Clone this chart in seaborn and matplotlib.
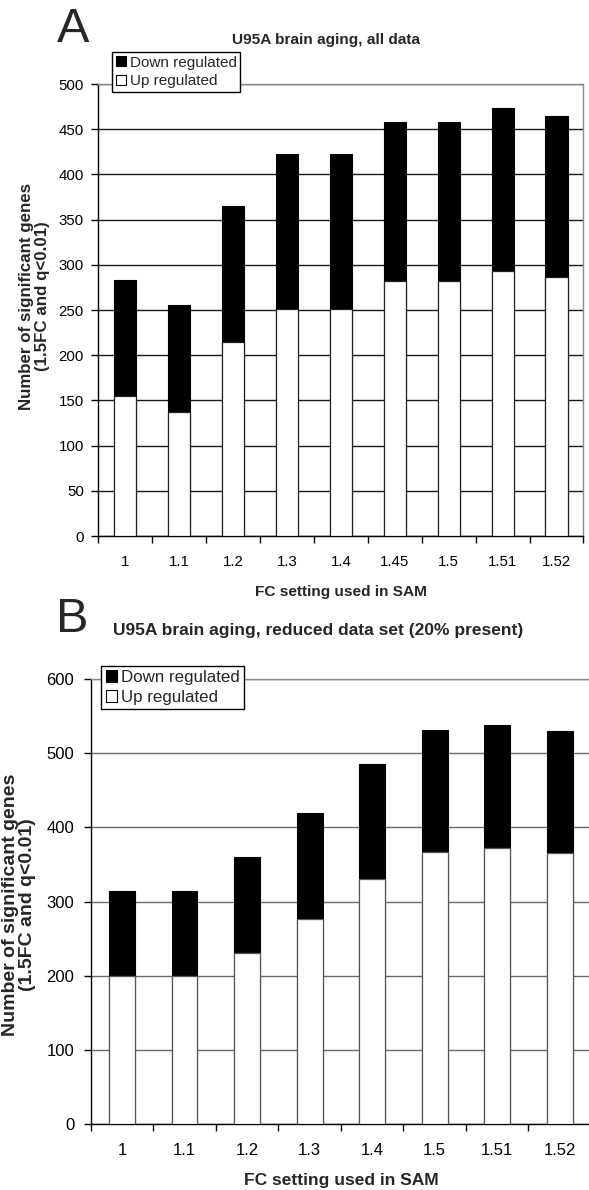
import matplotlib
matplotlib.use("Agg")
import matplotlib.pyplot as plt
from matplotlib.patches import Patch
from matplotlib.ticker import FixedLocator, MultipleLocator
import seaborn as sns
import pandas as pd
import numpy as np

# ---------------- data ----------------
fc_a = ["1", "1.1", "1.2", "1.3", "1.4", "1.45", "1.5", "1.51", "1.52"]
up_a = [155, 137, 215, 251, 251, 282, 282, 293, 286]
down_a = [128, 119, 150, 172, 172, 176, 176, 180, 179]

fc_b = ["1", "1.1", "1.2", "1.3", "1.4", "1.5", "1.51", "1.52"]
up_b = [200, 200, 230, 276, 330, 367, 372, 365]
down_b = [114, 114, 130, 144, 155, 164, 166, 165]

title_a = "U95A brain aging, all data"
title_b = "U95A brain aging, reduced data set (20% present)"
xlabel = "FC setting used in SAM"
ylabel = "Number of significant genes\n(1.5FC and q<0.01)"
legend_labels = ["Down regulated", "Up regulated"]

sns.set_theme(style="white")
plt.rcParams["font.family"] = ["Liberation Sans", "DejaVu Sans"]

W, H = 589, 1190
fig = plt.figure(figsize=(W / 100, H / 100), dpi=100)


def fx(px):
    return px / W


def fy(py):
    return 1 - py / H


def panel(rect, cats, up, down, ymax, ystep, grid_color, edge_col, fs_tick,
          fs_leg, fs_ylab, leg_pos, ylab_xy, xtick_pad, ytick_pad):
    ax = fig.add_axes(rect)
    df = pd.DataFrame({"fc": cats, "up": up, "down": down})
    df["total"] = df["up"] + df["down"]
    sns.barplot(data=df, x="fc", y="total", order=cats, color="black",
                saturation=1, width=0.41, edgecolor="black", linewidth=0.8,
                errorbar=None, ax=ax, zorder=3)
    sns.barplot(data=df, x="fc", y="up", order=cats, color="white",
                saturation=1, width=0.41, edgecolor=edge_col, linewidth=0.9,
                errorbar=None, ax=ax, zorder=3)
    n = len(cats)
    ax.set_xlim(-0.5, n - 0.5)
    ax.set_ylim(0, ymax)
    ax.yaxis.set_major_locator(MultipleLocator(ystep))
    ax.grid(axis="y", color=grid_color, linewidth=1.0, zorder=0)
    ax.grid(axis="x", visible=False)
    ax.set_axisbelow(True)
    for s in ["top", "right"]:
        ax.spines[s].set_color("#8a8a8a")
        ax.spines[s].set_linewidth(1.0)
    for s in ["left", "bottom"]:
        ax.spines[s].set_color("black")
        ax.spines[s].set_linewidth(1.0)
    ax.xaxis.set_minor_locator(FixedLocator(np.arange(-0.5, n, 1.0)))
    ax.tick_params(axis="x", which="major", length=0, labelsize=fs_tick,
                   pad=xtick_pad, colors="black")
    ax.tick_params(axis="x", which="minor", length=5, width=1,
                   direction="out", color="black", bottom=True)
    ax.tick_params(axis="y", which="major", length=5, width=1,
                   direction="out", labelsize=fs_tick, left=True,
                   pad=ytick_pad, colors="black")
    ax.set_xlabel("")
    ax.set_ylabel(ylabel, fontsize=fs_ylab, fontweight="bold",
                  linespacing=1.05, ha="center", va="center")
    ax.yaxis.set_label_coords(*ylab_xy, transform=fig.transFigure)
    handles = [Patch(facecolor="black", edgecolor="black", linewidth=0.8),
               Patch(facecolor="white", edgecolor="black", linewidth=0.8)]
    leg = ax.legend(handles, legend_labels, loc="upper left",
                    bbox_to_anchor=(fx(leg_pos[0]), fy(leg_pos[1])),
                    bbox_transform=fig.transFigure, borderaxespad=0,
                    fontsize=fs_leg, frameon=True, fancybox=False,
                    framealpha=1, edgecolor="black", handlelength=0.65,
                    handleheight=0.65, handletextpad=0.25, borderpad=0.25,
                    labelspacing=0.3)
    leg.get_frame().set_linewidth(1.0)
    leg.set_zorder(10)
    return ax


# Panel A
axA_l, axA_r, axA_t, axA_b = 98.4, 583.4, 84.0, 536.0
axA = panel([fx(axA_l), fy(axA_b), (axA_r - axA_l) / W, (axA_b - axA_t) / H],
            fc_a, up_a, down_a, 500, 50, "#1a1a1a", "#222222",
            fs_tick=10.8, fs_leg=11, fs_ylab=12.2,
            leg_pos=(112, 51.7), ylab_xy=(fx(34.5), fy(296)), xtick_pad=14,
            ytick_pad=5.5)
fig.text(fx((axA_l + axA_r) / 2), fy(591.7), xlabel, ha="center", va="center",
         fontsize=11.1, fontweight="bold")
fig.text(fx(326), fy(44), title_a, ha="center", va="baseline",
         fontsize=11.1, fontweight="bold")
fig.text(fx(57), fy(41.7), "A", ha="left", va="baseline", fontsize=35)

# Panel B
axB_l, axB_r, axB_t, axB_b = 90.9, 591.0, 679.3, 1123.7
axB = panel([fx(axB_l), fy(axB_b), (axB_r - axB_l) / W, (axB_b - axB_t) / H],
            fc_b, up_b, down_b, 600, 100, "#6a6a6a", "#555555",
            fs_tick=12, fs_leg=12.2, fs_ylab=14.0,
            leg_pos=(101.4, 665.7), ylab_xy=(fx(19), fy(905)), xtick_pad=14,
            ytick_pad=7)
fig.text(fx((axB_l + axB_r) / 2), fy(1180), xlabel, ha="center", va="center",
         fontsize=12.5, fontweight="bold")
fig.text(fx(318), fy(635), title_b, ha="center", va="baseline",
         fontsize=12.5, fontweight="bold")
fig.text(fx(56), fy(632), "B", ha="left", va="baseline", fontsize=35)

fig.savefig("out.png", dpi=100, facecolor="white")
